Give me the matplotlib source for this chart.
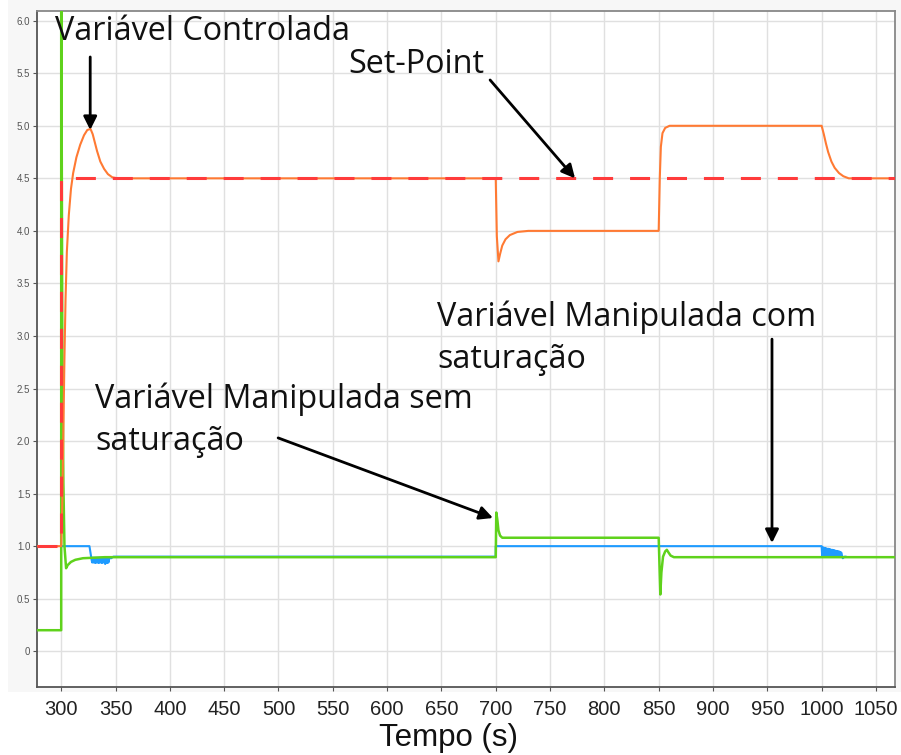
import matplotlib
matplotlib.use("Agg")
import matplotlib.pyplot as plt
from matplotlib.patches import Rectangle

plt.rcParams['lines.scale_dashes'] = False

# set-point
sp_t = [278, 300, 300, 1068]
sp_v = [1.0, 1.0, 4.5, 4.5]

# controlled variable
pv_t = [278, 300, 301, 302, 303, 304, 305.2, 307, 309, 311, 314, 317.5, 321, 324, 327,
        329, 331, 333, 336, 339.5, 343, 347, 352,
        700, 701, 702.5, 704, 706, 709, 713, 720, 730,
        850, 851, 852, 853.5, 856, 860,
        1000, 1002, 1004, 1006, 1009, 1012, 1016, 1020, 1025, 1068]
pv_v = [1.0, 1.0, 1.4, 2.1, 2.8, 3.35, 3.8, 4.15, 4.4, 4.55, 4.7, 4.82, 4.91, 4.96, 4.97,
        4.92, 4.84, 4.76, 4.66, 4.59, 4.54, 4.51, 4.5,
        4.5, 3.95, 3.71, 3.78, 3.86, 3.92, 3.96, 3.99, 4.0,
        4.0, 4.5, 4.8, 4.93, 4.98, 5.0,
        5.0, 4.92, 4.83, 4.75, 4.66, 4.6, 4.55, 4.52, 4.5, 4.5]

# manipulated variable, no saturation
mv_t = [278, 300, 300, 301, 302, 303, 304.5, 306, 309, 313, 320, 330, 340,
        700, 700.5, 701.5, 702.5, 704, 706,
        850, 850.5, 851.5, 852.5, 854, 856, 857.5, 859, 861, 864, 1068]
mv_v = [0.2, 0.2, 6.6, 3.0, 1.6, 1.0, 0.79, 0.82, 0.85, 0.87, 0.885, 0.89, 0.895,
        0.895, 1.32, 1.25, 1.15, 1.1, 1.08,
        1.08, 0.9, 0.54, 0.75, 0.9, 0.95, 0.965, 0.94, 0.91, 0.895, 0.895]

# manipulated variable, saturated at 1.0 (chatters after leaving the limit)
ms_t = [300, 326, 328,
        328.5, 329, 329.5, 330, 330.5, 331, 331.5, 332, 332.5, 333, 333.5, 334, 334.5,
        335, 335.5, 336, 336.5, 337, 337.5, 338, 338.5, 339, 339.5, 340, 340.5, 341,
        341.5, 342, 342.5, 343, 343.5, 344, 346, 348,
        700, 700, 1000,
        1000.5, 1001, 1001.5, 1002, 1002.5, 1003, 1003.5, 1004, 1004.5, 1005, 1005.5,
        1006, 1006.5, 1007, 1007.5, 1008, 1008.5, 1009, 1009.5, 1010, 1010.5, 1011,
        1011.5, 1012, 1012.5, 1013, 1013.5, 1014, 1014.5, 1015, 1015.5, 1016, 1016.5,
        1017, 1017.5, 1018, 1019.5, 1021, 1022]
ms_v = [1.0, 1.0, 0.87,
        0.845, 0.89, 0.845, 0.89, 0.845, 0.89, 0.84, 0.89, 0.845, 0.89, 0.845, 0.89, 0.84,
        0.89, 0.845, 0.89, 0.845, 0.89, 0.84, 0.89, 0.845, 0.89, 0.845, 0.89, 0.83, 0.89,
        0.845, 0.89, 0.84, 0.89, 0.845, 0.885, 0.885, 0.9,
        0.9, 1.0, 1.0,
        0.91, 0.99, 0.91, 0.985, 0.91, 0.98, 0.905, 0.98, 0.91, 0.975, 0.905,
        0.975, 0.91, 0.97, 0.905, 0.97, 0.905, 0.965, 0.905, 0.965, 0.905, 0.96,
        0.905, 0.96, 0.9, 0.955, 0.905, 0.955, 0.9, 0.95, 0.9, 0.95, 0.9,
        0.945, 0.9, 0.94, 0.885, 0.9, 0.9]

xticks = [300, 350, 400, 450, 500, 550, 600, 650, 700, 750, 800, 850, 900, 950, 1000, 1050]
yticks = [0, 0.5, 1.0, 1.5, 2.0, 2.5, 3.0, 3.5, 4.0, 4.5, 5.0, 5.5, 6.0]
ylabels = ["0", "0.5", "1.0", "1.5", "2.0", "2.5", "3.0", "3.5", "4.0", "4.5", "5.0", "5.5", "6.0"]

fig = plt.figure(figsize=(9.01, 7.55), dpi=100)
# light grey panel behind the plot area
fig.patches.append(Rectangle((8 / 901, 63 / 755), 1, 1, transform=fig.transFigure,
                             facecolor='#f7f7f7', edgecolor='none', zorder=-10))
ax = fig.add_axes([0.0414, 0.0897, 0.9519, 0.8961])
ax.set_facecolor('white')

ax.plot(ms_t, ms_v, color='#1e9bff', lw=1.5, zorder=3)
ax.plot(mv_t, mv_v, color='#5fd21c', lw=1.8, zorder=4)
ax.plot(pv_t, pv_v, color='#ff7a33', lw=1.5, zorder=5)
ax.plot(sp_t, sp_v, color='#ff3b3b', lw=2.2, dashes=(14.4, 12.2), zorder=6)

ax.set_xlim(278, 1067.5)
ax.set_ylim(-0.343, 6.095)
ax.set_xticks(xticks)
ax.set_yticks(yticks)
ax.set_yticklabels(ylabels)
ax.grid(True, color='#e0e0e0', lw=1.0, zorder=0)
ax.set_axisbelow(True)
ax.tick_params(axis='y', labelsize=7, labelcolor='#555555', color='#555555', length=3, pad=2)
ax.tick_params(axis='x', labelsize=14.5, labelcolor='#222222', color='#555555', length=3, pad=6)
for lbl in ax.get_xticklabels():
    lbl.set_fontfamily('Liberation Sans')
for lbl in ax.get_yticklabels():
    lbl.set_fontfamily('Liberation Sans')
for side in ['left', 'bottom']:
    ax.spines[side].set_color('#555555')
    ax.spines[side].set_linewidth(1.3)
for side in ['top', 'right']:
    ax.spines[side].set_color('#888888')
    ax.spines[side].set_linewidth(1.3)

ax.set_xlabel('Tempo (s)', fontsize=22.5, family='Liberation Sans', color='#111111')
ax.xaxis.set_label_coords(0.48, -0.053)

txt = dict(fontsize=23.3, family='Open Sans', color='#111111', va='baseline', ha='left', zorder=10)
ax.text(294.5, 5.82, 'Variável Controlada', **txt)
ax.text(564, 5.498, 'Set-Point', **txt)
ax.text(646, 2.696, 'Variável Manipulada com\nsaturação', linespacing=1.37, **txt)
ax.text(331, 1.915, 'Variável Manipulada sem\nsaturação', linespacing=1.37, **txt)

arrow = dict(arrowstyle='-|>', color='black', lw=2.0, mutation_scale=20, shrinkA=0, shrinkB=0)
ax.annotate('', xy=(326.7, 4.96), xytext=(326.7, 5.655), arrowprops=arrow, zorder=10)
ax.annotate('', xy=(773, 4.5), xytext=(694.8, 5.436), arrowprops=arrow, zorder=10)
ax.annotate('', xy=(954.3, 1.03), xytext=(954.3, 2.97), arrowprops=arrow, zorder=10)
ax.annotate('', xy=(697.5, 1.268), xytext=(499.7, 2.03), arrowprops=arrow, zorder=10)

fig.savefig('out.png', dpi=100)
